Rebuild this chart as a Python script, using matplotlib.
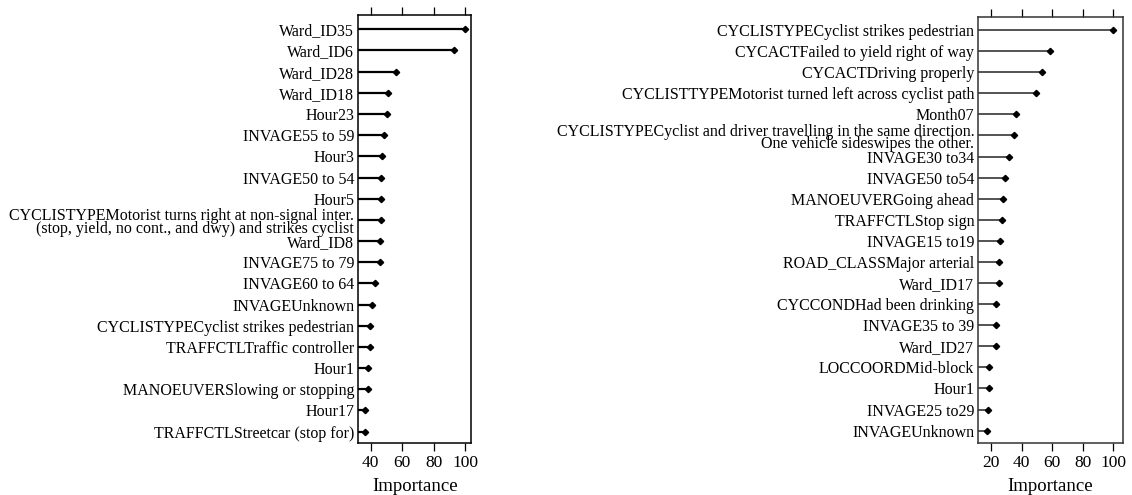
import matplotlib
matplotlib.use("Agg")
import matplotlib.pyplot as plt
import matplotlib.transforms as mtransforms
import numpy as np

plt.rcParams['font.family'] = ['Liberation Serif', 'DejaVu Serif']

# Variable importance, model A (top to bottom)
features_a = [
    "Ward_ID35", "Ward_ID6", "Ward_ID28", "Ward_ID18", "Hour23",
    "INVAGE55 to 59", "Hour3", "INVAGE50 to 54", "Hour5",
    "CYCLISTYPEMotorist turns right at non-signal inter.\n(stop, yield, no cont., and dwy) and strikes cyclist",
    "Ward_ID8", "INVAGE75 to 79", "INVAGE60 to 64", "INVAGEUnknown",
    "CYCLISTYPECyclist strikes pedestrian", "TRAFFCTLTraffic controller",
    "Hour1", "MANOEUVERSlowing or stopping", "Hour17",
    "TRAFFCTLStreetcar (stop for)",
]
importance_a = [100, 93.2, 56.0, 50.8, 50.2, 48.5, 47.2, 46.6, 46.6, 46.5,
                45.9, 45.9, 42.9, 41.0, 39.6, 39.7, 38.5, 38.5, 36.4, 36.4]

# Variable importance, model B (top to bottom)
features_b = [
    "CYCLISTYPECyclist strikes pedestrian", "CYCACTFailed to yield right of way",
    "CYCACTDriving properly", "CYCLISTTYPEMotorist turned left across cyclist path",
    "Month07",
    "CYCLISTYPECyclist and driver travelling in the same direction.\nOne vehicle sideswipes the other.",
    "INVAGE30 to34", "INVAGE50 to54", "MANOEUVERGoing ahead",
    "TRAFFCTLStop sign", "INVAGE15 to19", "ROAD_CLASSMajor arterial",
    "Ward_ID17", "CYCCONDHad been drinking", "INVAGE35 to 39", "Ward_ID27",
    "LOCCOORDMid-block", "Hour1", "INVAGE25 to29", "INVAGEUnknown",
]
importance_b = [100, 58.4, 53.1, 49.4, 36.1, 35.0, 31.6, 29.0, 28.1, 27.2,
                25.9, 25.4, 25.2, 23.5, 23.5, 23.1, 18.9, 18.5, 18.0, 17.6]

ticks_a = [40, 60, 80, 100]
ticks_b = [20, 40, 60, 80, 100]

W, H = 1132, 495
fig = plt.figure(figsize=(W / 100, H / 100), dpi=100)


def lollipop(rect, labels, values, xlim, ylim, ticks, color, lw, frame_color):
    ax = fig.add_axes(rect)
    n = len(labels)
    y = np.arange(n, 0, -1)
    ax.hlines(y, xlim[0], values, color=color, linewidth=lw, zorder=2)
    ax.plot(values, y, linestyle='none', marker='D', markersize=3.2,
            color='black', zorder=3)
    ax.set_xlim(*xlim)
    ax.set_ylim(*ylim)
    ax.set_yticks(y)
    ax.set_yticklabels(labels, fontsize=11.5, linespacing=0.7)
    ax.tick_params(axis='y', length=0, pad=3)
    # nudge two-line labels down slightly so the first line sits near the row
    shift = mtransforms.ScaledTranslation(0, -1.8 / 72, fig.dpi_scale_trans)
    for lab in ax.get_yticklabels():
        if "\n" in lab.get_text():
            lab.set_transform(lab.get_transform() + shift)
    ax.set_xticks(ticks)
    ax.tick_params(axis='x', which='both', direction='out', length=6, width=0.9,
                   top=True, labeltop=False, labelsize=12.5, pad=2.5,
                   colors='black')
    for s in ax.spines.values():
        s.set_linewidth(1.1)
        s.set_color(frame_color)
    ax.set_xlabel("Importance", fontsize=13.5, labelpad=5)
    return ax


lollipop([358.3 / W, 1 - 443.3 / H, 112.7 / W, 428.3 / H],
         features_a, importance_a, (32.1, 103.8), (0.45, 20.675),
         ticks_a, 'black', 1.6, 'black')

lollipop([978.3 / W, 1 - 443.3 / H, 144.2 / W, 426.6 / H],
         features_b, importance_b, (11.7, 106.0), (0.4, 20.63),
         ticks_b, '#454545', 1.3, '#333333')

fig.savefig("out.png", dpi=100)
